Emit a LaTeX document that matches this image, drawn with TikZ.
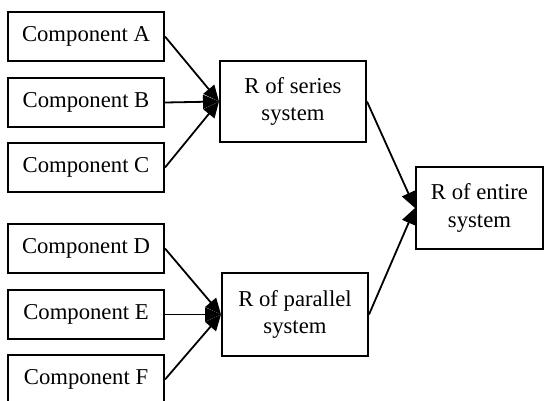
\documentclass[tikz,border=0pt]{standalone}
\usepackage{fontspec}
\setmainfont{Liberation Serif}
\usetikzlibrary{arrows.meta}

\begin{document}
\begin{tikzpicture} [x=1pt, y=-1pt,
  box/.style={draw, line width=2pt, align=center, inner sep=0pt,
    font=\fontsize{22.7}{27.5}\selectfont},
  arr/.style={line width=1.8pt, -{Triangle[length=16pt, width=14pt]}}]
\useasboundingbox (0,0) rectangle (544,400);
\foreach \n/\y in {A/36.5, B/102.5, C/167.5, D/248.5, E/314.5, F/379.5} {
 \node[box, minimum width=156pt, minimum height=49pt] (comp\n) at (86,\y) {Component \n};
}
\node[box, minimum width=146pt, minimum height=81pt] (series) at (293,101.5) {R of series\\system};
\node[box, minimum width=146pt, minimum height=83pt] (parallel) at (295,314.5) {R of parallel\\system};
\node[box, minimum width=127pt, minimum height=82pt] (entire) at (479.5,208) {R of entire\\system};
\foreach \n in {A, B, C} {
 \draw[arr] (comp\n.east) -- (series.west);
}
\foreach \n in {D, E, F} {
 \draw[arr] (comp\n.east) -- (parallel.west);
}
\draw[arr] (series.east) -- (entire.west);
\draw[arr] (parallel.east) -- (entire.west);
\end{tikzpicture}
\end{document}
